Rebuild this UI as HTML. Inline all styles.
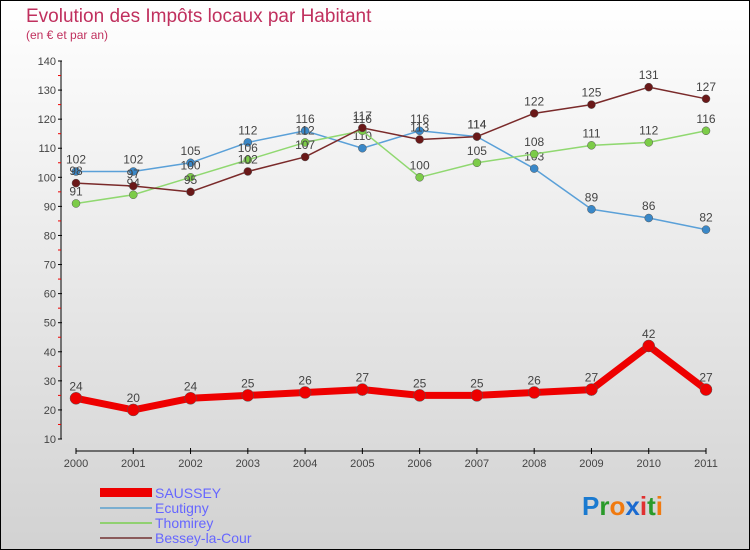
<!DOCTYPE html>
<html><head><meta charset="utf-8"><style>
body{margin:0;width:750px;height:550px;overflow:hidden;font-family:"Liberation Sans",sans-serif}
#wrap{position:absolute;left:0;top:0;width:748px;height:548px;border:1px solid #000;background:linear-gradient(#fff,#d2d2d2)}
</style></head><body>
<div id="wrap">
<svg id="chart" width="750" height="550" style="position:absolute;left:-1px;top:-1px">
<text x="26" y="22" font-size="19" fill="#c0305e">Evolution des Impôts locaux par Habitant</text>
<text x="26" y="39" font-size="12" fill="#c0305e">(en € et par an)</text>
<g id="axes"></g><g id="series"></g>
<g>
<rect x="100" y="488" width="52" height="9" fill="#e00"/>
<text x="155" y="498" font-size="14" fill="#66f">SAUSSEY</text>
<line x1="100" y1="508" x2="152" y2="508" stroke="#7aaed0" stroke-width="2"/>
<text x="155" y="513" font-size="14" fill="#66f">Ecutigny</text>
<line x1="100" y1="523" x2="152" y2="523" stroke="#90d070" stroke-width="2"/>
<text x="155" y="528" font-size="14" fill="#66f">Thomirey</text>
<line x1="100" y1="538" x2="152" y2="538" stroke="#8a5a5a" stroke-width="2"/>
<text x="155" y="543" font-size="14" fill="#66f">Bessey-la-Cour</text>
</g>
<text x="582" y="515" font-size="26" font-weight="bold"><tspan fill="#1a7ad0">P</tspan><tspan fill="#2a9a2a">r</tspan><tspan fill="#f07a10">o</tspan><tspan fill="#1a6ad0">x</tspan><tspan fill="#e03030">i</tspan><tspan fill="#2a9a2a">t</tspan><tspan fill="#f07a10">i</tspan></text>
</svg></div>
<script>
const years=["2000","2001","2002","2003","2004","2005","2006","2007","2008","2009","2010","2011"];
const yTicks=[10,20,30,40,50,60,70,80,90,100,110,120,130,140];
const saussey=[24,20,24,25,26,27,25,25,26,27,42,27];
const ecutigny=[102,102,105,112,116,110,116,114,103,89,86,82];
const thomirey=[91,94,100,106,112,116,100,105,108,111,112,116];
const bessey=[98,97,95,102,107,117,113,114,122,125,131,127];
const NS="http://www.w3.org/2000/svg";
const xS=i=>76+i*(630/11);
const yS=v=>439-(v-10)*(378/130);
function mk(t,a,p){const e=document.createElementNS(NS,t);for(const k in a)e.setAttribute(k,a[k]);p.appendChild(e);return e;}
const ax=document.getElementById('axes');
let l=mk('line',{x1:61,y1:61,x2:61,y2:439,stroke:'#000'},ax);


yTicks.forEach(v=>{
 mk('line',{x1:58,y1:yS(v),x2:62,y2:yS(v),stroke:'#000'},ax);
 if(v<140) mk('line',{x1:58,y1:yS(v+5),x2:61,y2:yS(v+5),stroke:'#e00'},ax);
 const t=mk('text',{x:56,y:yS(v)+4,'font-size':11,fill:'#444','text-anchor':'end'},ax);t.textContent=v;
 
 
});
l=mk('line',{x1:76,y1:451,x2:706,y2:451,stroke:'#000'},ax);


years.forEach((y,i)=>{
 mk('line',{x1:xS(i),y1:448,x2:xS(i),y2:454,stroke:'#000'},ax);
 const t=mk('text',{x:xS(i),y:467,'font-size':11,fill:'#444','text-anchor':'middle'},ax);t.textContent=y;
 
 
});
const sg=document.getElementById('series');
function series(name,data,color,w,r,dot){
 const g=mk('g',{},sg);
 
 
 mk('polyline',{points:data.map((v,i)=>xS(i)+','+yS(v)).join(' '),fill:'none',stroke:color,'stroke-width':w,'stroke-linejoin':'round'},g);
 data.forEach((v,i)=>{
  const c=mk('circle',{cx:xS(i),cy:yS(v),r:r,fill:dot,stroke:'#555','stroke-width':0.5},g);
  
  
  const t=mk('text',{x:xS(i),y:yS(v)-8,'font-size':12,fill:'#444','text-anchor':'middle'},g);t.textContent=v;
  
  
 });
}
series('ecutigny',ecutigny,'#5aa0d8',1.5,4,'#3a88c8');
series('thomirey',thomirey,'#90d870',1.5,4,'#7ccc48');
series('bessey',bessey,'#7a2a2a',1.5,4,'#6a1818');
series('saussey',saussey,'#ee0000',7,6,'#ee0000');
</script>
</body></html>
